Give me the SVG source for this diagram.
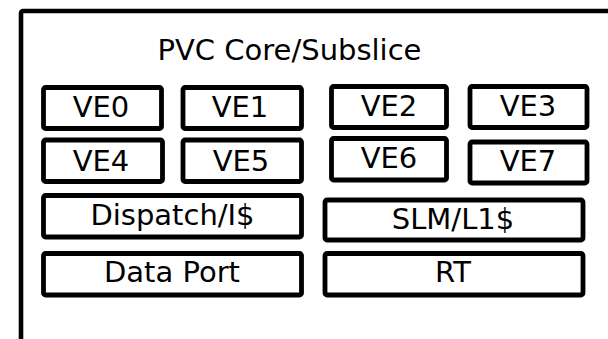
<svg xmlns="http://www.w3.org/2000/svg" width="608" height="339" viewBox="0 0 608 339">
<style>
.box{fill:#fff;stroke:#000;stroke-width:4.8}
.t{font-family:"DejaVu Sans",sans-serif;font-size:29px;fill:#000;text-anchor:middle}
</style>
<rect x="0" y="0" width="608" height="339" fill="#fff"/>
<g id="core">
<rect x="21" y="11" width="610" height="350" fill="none" stroke="#000" stroke-width="4.6" rx="2"/>
<text class="t" x="289.5" y="60">PVC Core/Subslice</text>
</g>
<g id="ve0"><rect class="box" x="43.5" y="87.5" width="118" height="41" rx="2"/><text class="t" x="101" y="117.3">VE0</text></g>
<g id="ve1"><rect class="box" x="183" y="87.5" width="118.5" height="41" rx="2"/><text class="t" x="240" y="117.3">VE1</text></g>
<g id="ve2"><rect class="box" x="331.5" y="86.5" width="115" height="41" rx="2"/><text class="t" x="389" y="116.3">VE2</text></g>
<g id="ve3"><rect class="box" x="470" y="86.5" width="117" height="41" rx="2"/><text class="t" x="528" y="116.3">VE3</text></g>
<g id="ve4"><rect class="box" x="43.5" y="140" width="119" height="41.5" rx="2"/><text class="t" x="101" y="170.7">VE4</text></g>
<g id="ve5"><rect class="box" x="183" y="140" width="118.5" height="41.5" rx="2"/><text class="t" x="241" y="170.7">VE5</text></g>
<g id="ve6"><rect class="box" x="331.5" y="138.5" width="115" height="41.5" rx="2"/><text class="t" x="389" y="167.5">VE6</text></g>
<g id="ve7"><rect class="box" x="470" y="142" width="117" height="41" rx="2"/><text class="t" x="528" y="170.7">VE7</text></g>
<g id="dispatch"><rect class="box" x="43.5" y="195.5" width="258" height="41.5" rx="2"/><text class="t" x="172.5" y="225">Dispatch/I$</text></g>
<g id="slm"><rect class="box" x="325" y="200" width="258" height="40" rx="2"/><text class="t" x="453" y="229.3">SLM/L1$</text></g>
<g id="dataport"><rect class="box" x="43.5" y="253.5" width="258" height="41.5" rx="2"/><text class="t" x="172" y="282.3">Data Port</text></g>
<g id="rt"><rect class="box" x="325" y="253.5" width="258" height="41.5" rx="2"/><text class="t" x="453" y="281.7">RT</text></g>
<g id="connectors"/>
</svg>
